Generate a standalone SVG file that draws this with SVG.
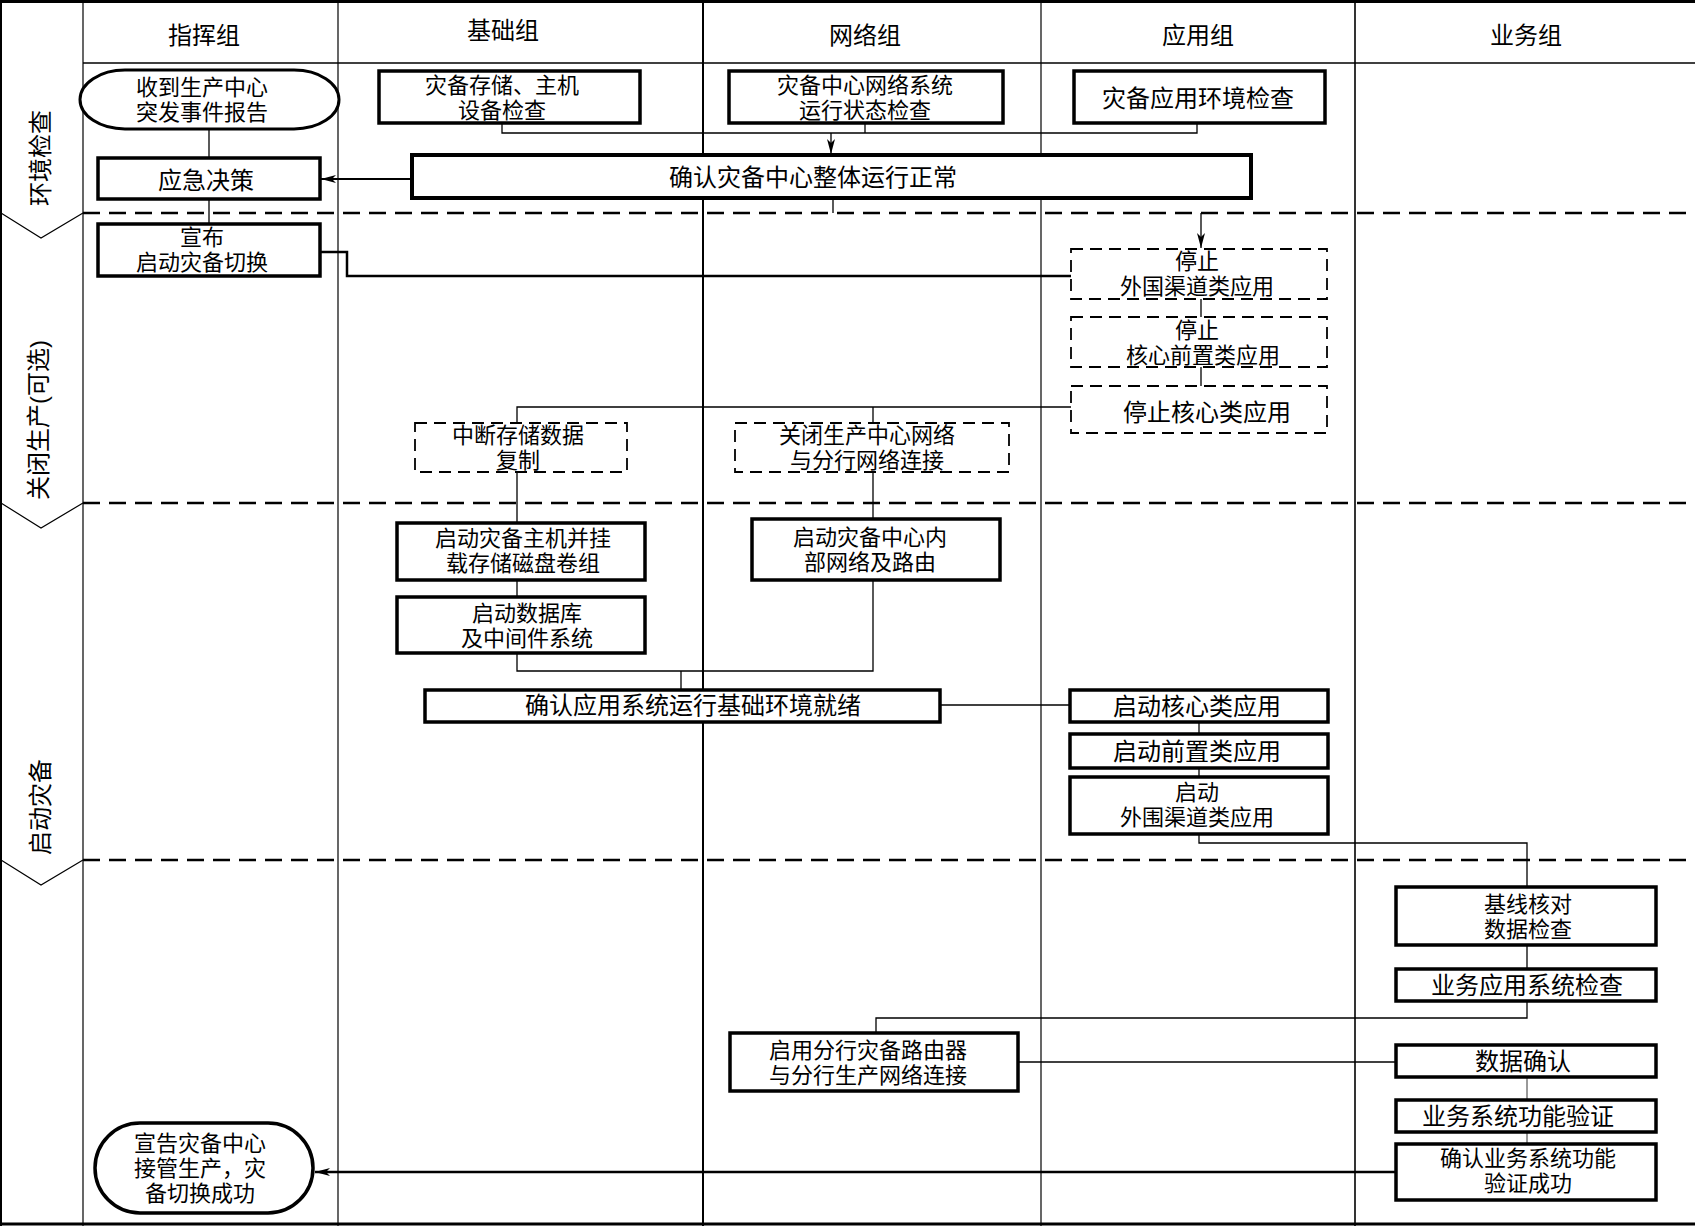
<svg xmlns="http://www.w3.org/2000/svg" width="1695" height="1226" viewBox="0 0 1695 1226">
<style>
.bg{fill:#fff}
.ln{stroke:#000;stroke-width:1.2;fill:none}
.ln2{stroke:#000;stroke-width:2;fill:none}
.dash{stroke:#000;stroke-width:2.6;stroke-dasharray:17 9;fill:none}
.box{fill:#fff;stroke:#000;stroke-width:3.5}
.dbox{fill:#fff;stroke:#000;stroke-width:1.8;stroke-dasharray:12 7}
.t{font-family:"Liberation Sans","Noto Sans CJK SC",sans-serif;font-size:24px;text-anchor:middle;dominant-baseline:central;fill:#000}
.t2{font-size:22px}
.c{fill:none;stroke:#000;stroke-width:1.3}
.ck{fill:none;stroke:#000;stroke-width:2.5}
</style>
<defs>
<marker id="arr" markerUnits="userSpaceOnUse" markerWidth="16" markerHeight="10" refX="15" refY="5" orient="auto">
<path d="M0,1 L15,5 L0,9 L4,5 Z" fill="#000"/>
</marker>
</defs>
<rect class="bg" x="0" y="0" width="1695" height="1226"/>
<g id="lanes">
<line class="ln2" x1="0" y1="1.5" x2="1695" y2="1.5" style="stroke-width:3"/>
<line class="ln2" x1="0" y1="1224" x2="1695" y2="1224" style="stroke-width:3"/>
<line class="ln2" x1="1" y1="0" x2="1" y2="1226"/>
<line class="ln" x1="83" y1="0" x2="83" y2="1226"/>
<line class="ln" x1="338" y1="0" x2="338" y2="1226"/>
<line class="ln2" x1="703" y1="0" x2="703" y2="1226"/>
<line class="ln" x1="1041" y1="0" x2="1041" y2="1226"/>
<line class="ln" x1="1355" y1="0" x2="1355" y2="1226" style="stroke-width:1.6"/>
<line class="ln" x1="83" y1="63" x2="1695" y2="63" style="stroke-width:1.5"/>
<line class="dash" x1="83" y1="213" x2="1695" y2="213"/>
<line class="dash" x1="83" y1="503" x2="1695" y2="503"/>
<line class="dash" x1="83" y1="860" x2="1695" y2="860"/>
<polyline class="ln" points="1,213 41,238 83,213"/>
<polyline class="ln" points="1,503 41,528 83,503"/>
<polyline class="ln" points="1,860 41,885 83,860"/>
<text class="t" x="204" y="35">指挥组</text>
<text class="t" x="503" y="30">基础组</text>
<text class="t" x="865" y="35">网络组</text>
<text class="t" x="1198" y="35">应用组</text>
<text class="t" x="1526" y="35">业务组</text>
<text class="t" transform="translate(40,158) rotate(-90)">环境检查</text>
<text class="t" transform="translate(38,420) rotate(-90)">关闭生产(可选)</text>
<text class="t" transform="translate(40,807) rotate(-90)">启动灾备</text>
</g>
<g id="connectors">
<path class="c" d="M502,123 V133 H1197 V123"/>
<path class="c" d="M865,123 V133"/>
<path class="c" d="M831,133 V154" marker-end="url(#arr)"/>
<path class="ln2" d="M412,179 H321" marker-end="url(#arr)"/>
<path class="c" d="M209,129 V158"/>
<path class="c" d="M209,199 V224"/>
<path class="c" d="M833,198 V213"/>
<path class="c" d="M1201,213 V248" marker-end="url(#arr)"/>
<path class="ck" d="M320,252 H347 V276 H1071"/>
<path class="c" d="M1201,299 V317"/>
<path class="c" d="M1201,367 V386"/>
<path class="c" d="M1071,407 H517 V423"/>
<path class="c" d="M873,407 V423"/>
<path class="c" d="M517,472 V671 H873 V580"/>
<path class="c" d="M873,472 V519"/>
<path class="c" d="M681,671 V690"/>
<path class="c" d="M940,705 H1070"/>
<path class="c" d="M1199,722 V734"/>
<path class="c" d="M1199,768 V777"/>
<path class="c" d="M1199,834 V843 H1527 V887"/>
<path class="c" d="M1527,945 V969"/>
<path class="c" d="M1527,1001 V1018 H876 V1033"/>
<path class="c" d="M1018,1062 H1396"/>
<path class="c" d="M1527,1077 V1100" style="stroke-width:0.8"/>
<path class="c" d="M1527,1132 V1144" style="stroke-width:0.8"/>
<path class="ck" d="M1396,1172 H315" marker-end="url(#arr)"/>
</g>
<g id="n1"><rect class="box" x="80" y="70" width="259" height="59" rx="45" ry="29.5" style="stroke-width:3"/>
<text class="t t2"><tspan x="202" y="87">收到生产中心</tspan><tspan x="202" y="112">突发事件报告</tspan></text></g>
<g id="n2"><rect class="box" x="379" y="71" width="261" height="52"/>
<text class="t t2"><tspan x="502" y="85">灾备存储、主机</tspan><tspan x="502" y="110">设备检查</tspan></text></g>
<g id="n3"><rect class="box" x="729" y="71" width="274" height="52"/>
<text class="t t2"><tspan x="865" y="85">灾备中心网络系统</tspan><tspan x="865" y="110">运行状态检查</tspan></text></g>
<g id="n4"><rect class="box" x="1074" y="71" width="251" height="52"/>
<text class="t" x="1198" y="98">灾备应用环境检查</text></g>
<g id="n5"><rect class="box" x="412" y="155" width="839" height="43" style="stroke-width:4"/>
<text class="t" x="813" y="177">确认灾备中心整体运行正常</text></g>
<g id="n6"><rect class="box" x="98" y="158" width="222" height="41"/>
<text class="t" x="206" y="180">应急决策</text></g>
<g id="n7"><rect class="box" x="98" y="224" width="222" height="52"/>
<text class="t t2"><tspan x="202" y="237">宣布</tspan><tspan x="202" y="262">启动灾备切换</tspan></text></g>
<g id="n8"><rect class="dbox" x="1071" y="249" width="256" height="50"/>
<text class="t t2"><tspan x="1197" y="261">停止</tspan><tspan x="1197" y="286">外国渠道类应用</tspan></text></g>
<g id="n9"><rect class="dbox" x="1071" y="317" width="256" height="50"/>
<text class="t t2"><tspan x="1197" y="330">停止</tspan><tspan x="1203" y="355">核心前置类应用</tspan></text></g>
<g id="n10"><rect class="dbox" x="1071" y="386" width="256" height="47"/>
<text class="t" x="1207" y="412">停止核心类应用</text></g>
<g id="n11"><rect class="dbox" x="415" y="423" width="212" height="49"/>
<text class="t t2"><tspan x="518" y="435">中断存储数据</tspan><tspan x="518" y="460">复制</tspan></text></g>
<g id="n12"><rect class="dbox" x="735" y="423" width="274" height="49"/>
<text class="t t2"><tspan x="867" y="435">关闭生产中心网络</tspan><tspan x="867" y="460">与分行网络连接</tspan></text></g>
<g id="n13"><rect class="box" x="397" y="523" width="248" height="57"/>
<text class="t t2"><tspan x="523" y="538">启动灾备主机并挂</tspan><tspan x="523" y="563">载存储磁盘卷组</tspan></text></g>
<g id="n14"><rect class="box" x="397" y="597" width="248" height="56"/>
<text class="t t2"><tspan x="527" y="613">启动数据库</tspan><tspan x="527" y="638">及中间件系统</tspan></text></g>
<g id="n15"><rect class="box" x="752" y="519" width="248" height="61"/>
<text class="t t2"><tspan x="870" y="537">启动灾备中心内</tspan><tspan x="870" y="562">部网络及路由</tspan></text></g>
<g id="n16"><rect class="box" x="425" y="690" width="515" height="32"/>
<text class="t" x="693" y="705">确认应用系统运行基础环境就绪</text></g>
<g id="n17"><rect class="box" x="1070" y="690" width="258" height="32"/>
<text class="t" x="1197" y="706">启动核心类应用</text></g>
<g id="n18"><rect class="box" x="1070" y="734" width="258" height="34"/>
<text class="t" x="1197" y="751">启动前置类应用</text></g>
<g id="n19"><rect class="box" x="1070" y="777" width="258" height="57"/>
<text class="t t2"><tspan x="1197" y="792">启动</tspan><tspan x="1197" y="817">外围渠道类应用</tspan></text></g>
<g id="n20"><rect class="box" x="1396" y="887" width="260" height="58"/>
<text class="t t2"><tspan x="1528" y="904">基线核对</tspan><tspan x="1528" y="929">数据检查</tspan></text></g>
<g id="n21"><rect class="box" x="1396" y="969" width="260" height="32"/>
<text class="t" x="1527" y="985">业务应用系统检查</text></g>
<g id="n22"><rect class="box" x="730" y="1033" width="288" height="58"/>
<text class="t t2"><tspan x="868" y="1050">启用分行灾备路由器</tspan><tspan x="868" y="1075">与分行生产网络连接</tspan></text></g>
<g id="n23"><rect class="box" x="1396" y="1045" width="260" height="32"/>
<text class="t" x="1523" y="1061">数据确认</text></g>
<g id="n24"><rect class="box" x="1396" y="1100" width="260" height="32"/>
<text class="t" x="1518" y="1116">业务系统功能验证</text></g>
<g id="n25"><rect class="box" x="1396" y="1144" width="260" height="56"/>
<text class="t t2"><tspan x="1528" y="1158">确认业务系统功能</tspan><tspan x="1528" y="1183">验证成功</tspan></text></g>
<g id="n26"><rect class="box" x="95" y="1123" width="218" height="90" rx="45" ry="45"/>
<text class="t t2"><tspan x="200" y="1143">宣告灾备中心</tspan><tspan x="200" y="1168">接管生产，灾</tspan><tspan x="200" y="1193">备切换成功</tspan></text></g>
</svg>
